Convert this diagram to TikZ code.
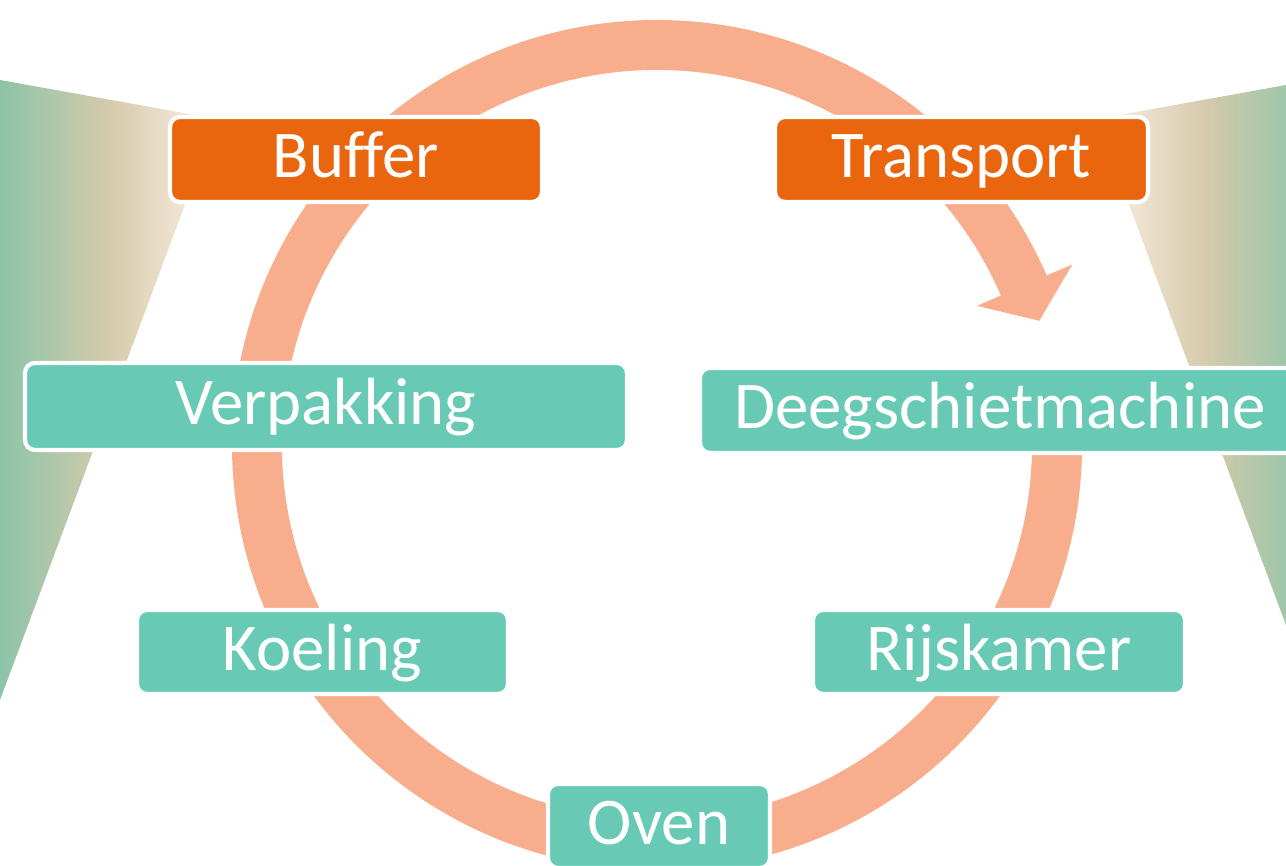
\documentclass[tikz,border=0pt]{standalone}
\usepackage{fontspec}
\setmainfont[Ligatures=CommonOff]{Carlito}
\usetikzlibrary{calc}
\definecolor{ringc}{HTML}{F8AD8D}
\definecolor{orngbox}{HTML}{E9660E}
\definecolor{tealbox}{HTML}{68CAB5}
\definecolor{gleft}{HTML}{8CC4A8}
\definecolor{gmid}{HTML}{D5CAAB}
\definecolor{gright}{HTML}{FDF1E8}
\tikzset{
  stagebox/.style={rounded corners=0.1cm, draw=white, line width=1.2pt, text=white,
    font=\fontsize{19}{23}\selectfont, inner sep=0pt, text height=0.5cm, text depth=0.13cm,
    minimum height=0.85cm},
  obox/.style={stagebox, fill=orngbox},
  tbox/.style={stagebox, fill=tealbox}
}
\begin{document}
\begin{tikzpicture}
\useasboundingbox (0,0) rectangle (12.86,8.66);
\clip (0,0) rectangle (12.86,8.66);
% background gradient wedges
\shade[left color=gleft, right color=gright, middle color=gmid]
  (0,7.86) -- (2.17,7.47) -- (0,1.66) -- cycle;
\shade[left color=gright, right color=gleft, middle color=gmid]
  (13.14,7.86) -- (10.97,7.47) -- (13.14,1.66) -- cycle;
% circular arrow
\coordinate (C) at (6.57,4.21);
\fill[ringc] ($(C)+(5:4.25)$) arc[start angle=5, end angle=-336.5, radius=4.25]
  -- ($(C)+(23.5:4.53)$) -- ($(C)+(18:4.02)$) -- ($(C)+(23.5:3.49)$)
  -- ($(C)+(23.5:3.75)$) arc[start angle=-336.5, end angle=5, radius=3.75] -- cycle;
% stage boxes
\node[obox, minimum width=3.72cm] (buffer) at (3.56,7.065) {Buffer};
\node[obox, minimum width=3.73cm] (transport) at (9.615,7.065) {Transport};
\node[tbox, minimum width=6.02cm, minimum height=0.87cm] (verpakking) at (3.26,4.595) {Verpakking};
\node[tbox, minimum width=6.00cm] (deeg) at (10.0,4.555) {Deegschietmachine};
\node[tbox, minimum width=3.71cm, minimum height=0.84cm] (koeling) at (3.225,2.14) {Koeling};
\node[tbox, minimum width=3.72cm, minimum height=0.84cm] (rijskamer) at (9.99,2.14) {Rijskamer};
\node[tbox, minimum width=2.22cm, minimum height=0.84cm] (oven) at (6.59,0.40) {Oven};
\end{tikzpicture}
\end{document}
